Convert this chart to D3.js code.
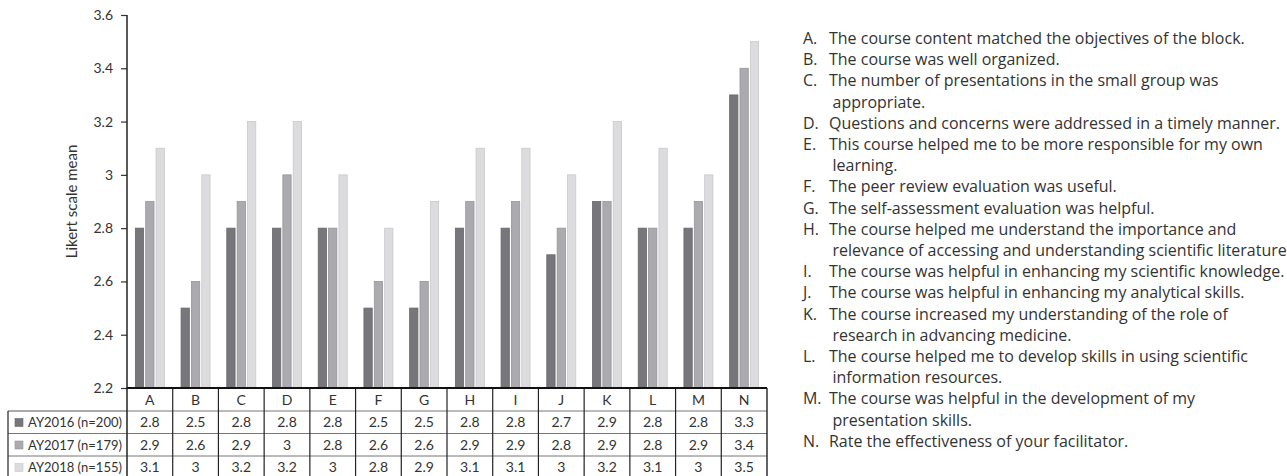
<!DOCTYPE html>
<html>
<head>
<meta charset="utf-8">
<script src="https://cdn.jsdelivr.net/npm/d3@7"></script>
<style>
  html, body { margin: 0; padding: 0; background: #fff; }
  svg { display: block; }
  text { font-family: Lato, "Open Sans", sans-serif; fill: #333; }
</style>
</head>
<body>
<svg id="chart" width="1287" height="476"></svg>
<script>
const categories = ["A","B","C","D","E","F","G","H","I","J","K","L","M","N"];
const seriesNames = ["AY2016 (n=200)","AY2017 (n=179)","AY2018 (n=155)"];
const ay2016 = [2.8,2.5,2.8,2.8,2.8,2.5,2.5,2.8,2.8,2.7,2.9,2.8,2.8,3.3];
const ay2017 = [2.9,2.6,2.9,3,2.8,2.6,2.6,2.9,2.9,2.8,2.9,2.8,2.9,3.4];
const ay2018 = [3.1,3,3.2,3.2,3,2.8,2.9,3.1,3.1,3,3.2,3.1,3,3.5];
const tickValues = [2.2,2.4,2.6,2.8,3,3.2,3.4,3.6];
const yTitle = "Likert scale mean";
const legendLines = [
  ["A.","The course content matched the objectives of the block."],
  ["B.","The course was well organized."],
  ["C.","The number of presentations in the small group was"],
  ["","appropriate."],
  ["D.","Questions and concerns were addressed in a timely manner."],
  ["E.","This course helped me to be more responsible for my own"],
  ["","learning."],
  ["F.","The peer review evaluation was useful."],
  ["G.","The self-assessment evaluation was helpful."],
  ["H.","The course helped me understand the importance and"],
  ["","relevance of accessing and understanding scientific literature."],
  ["I.","The course was helpful in enhancing my scientific knowledge."],
  ["J.","The course was helpful in enhancing my analytical skills."],
  ["K.","The course increased my understanding of the role of"],
  ["","research in advancing medicine."],
  ["L.","The course helped me to develop skills in using scientific"],
  ["","information resources."],
  ["M.","The course was helpful in the development of my"],
  ["","presentation skills."],
  ["N.","Rate the effectiveness of your facilitator."]
];

(function () {
const series = [ay2016, ay2017, ay2018];
const fills = ["#77777b","#ababaf","#dcdcde"];
const strokes = ["#68686c","#96969a","#c9c9cb"];

const svg = d3.select("#chart");
const pLeft = 127, pRight = 767, pTop = 15, pBottom = 388;

const x = d3.scaleBand().domain(categories).range([pLeft, pRight]).padding(0);
const y = d3.scaleLinear().domain([2.2, 3.6]).range([pBottom, pTop]);
const xSub = d3.scaleBand().domain(d3.range(3)).range([0, 29]).paddingInner(0.2);

// bars
series.forEach((vals, si) => {
  svg.append("g").selectAll("rect").data(vals).join("rect")
    .attr("x", (d, i) => x(categories[i]) + x.bandwidth() / 2 - 14.5 + xSub(si))
    .attr("y", d => y(d))
    .attr("width", xSub.bandwidth())
    .attr("height", d => y(2.2) - y(d))
    .attr("fill", fills[si])
    .attr("stroke", strokes[si])
    .attr("stroke-width", 0.8);
});

// y axis
const yAxis = d3.axisLeft(y).tickValues(tickValues).tickSize(6).tickPadding(8)
  .tickFormat(d => String(+d.toFixed(1)));
const gy = svg.append("g").attr("transform", `translate(${pLeft},0)`).call(yAxis);
gy.select(".domain").remove();
gy.selectAll(".tick line").attr("stroke", "#333").attr("stroke-width", 1.2);
gy.selectAll(".tick text").style("font-family", "Lato, sans-serif").style("font-size", "14px").attr("fill", "#404040");

svg.append("text")
  .attr("transform", `translate(77,${(pTop + pBottom) / 2}) rotate(-90)`)
  .attr("text-anchor", "middle")
  .style("font-size", "15px")
  .attr("fill", "#404040")
  .text(yTitle);

// table
const rowTops = [388, 411, 433.5, 456, 479];
const tbl = svg.append("g");
tbl.append("line").attr("x1", pLeft).attr("x2", pRight).attr("y1", 411).attr("y2", 411).attr("stroke", "#777").attr("stroke-width", 1);
[433.5, 456].forEach(yy => {
  tbl.append("line").attr("x1", 8).attr("x2", pRight).attr("y1", yy).attr("y2", yy).attr("stroke", "#777").attr("stroke-width", 1);
});
tbl.append("line").attr("x1", 8).attr("x2", pLeft).attr("y1", 411).attr("y2", 411).attr("stroke", "#555").attr("stroke-width", 1);
categories.forEach((c, i) => {
  if (i === 0) return;
  tbl.append("line").attr("x1", x(c)).attr("x2", x(c)).attr("y1", 388).attr("y2", 476).attr("stroke", "#222").attr("stroke-width", 1.2);
});
tbl.append("line").attr("x1", pRight).attr("x2", pRight).attr("y1", 388).attr("y2", 476).attr("stroke", "#222").attr("stroke-width", 1.4);
tbl.append("line").attr("x1", 8).attr("x2", 8).attr("y1", 411).attr("y2", 476).attr("stroke", "#222").attr("stroke-width", 1.2);

tbl.selectAll("text.hdr").data(categories).join("text")
  .attr("class", "hdr")
  .attr("x", d => x(d) + x.bandwidth() / 2)
  .attr("y", 404.5)
  .attr("text-anchor", "middle")
  .style("font-size", "14px")
  .text(d => d);

series.forEach((vals, si) => {
  tbl.append("g").selectAll("text").data(vals).join("text")
    .attr("x", (d, i) => x(categories[i]) + x.bandwidth() / 2)
    .attr("y", rowTops[si + 1] + 16.2)
    .attr("text-anchor", "middle")
    .style("font-size", "14px")
    .text(d => String(d));
  tbl.append("rect")
    .attr("x", 15).attr("y", rowTops[si + 1] + 7.5)
    .attr("width", 8).attr("height", 8)
    .attr("fill", fills[si]).attr("stroke", strokes[si]).attr("stroke-width", 0.6);
  tbl.append("text")
    .attr("x", 28).attr("y", rowTops[si + 1] + 16.2)
    .attr("textLength", 94).attr("lengthAdjust", "spacingAndGlyphs")
    .style("font-size", "14px")
    .text(seriesNames[si]);
});

svg.append("line").attr("x1", pLeft).attr("x2", pLeft).attr("y1", pTop).attr("y2", 476).attr("stroke", "#222").attr("stroke-width", 1.5);
svg.append("line").attr("x1", pLeft).attr("x2", pRight).attr("y1", pBottom).attr("y2", pBottom).attr("stroke", "#111").attr("stroke-width", 2);

// description list
const lg = svg.append("g");
const LF = "'Open Sans', Lato, sans-serif";
const probe = lg.append("text").style("font-family", LF).style("font-size", "16px").text(legendLines[0][1]);
const sx = Math.max(0.7, Math.min(1.3, 416 / probe.node().getComputedTextLength()));
probe.remove();
legendLines.forEach((ln, i) => {
  const yy = 44 + i * 21.2;
  if (ln[0]) {
    lg.append("text").attr("transform", `translate(803,${yy}) scale(${sx},1)`)
      .style("font-family", LF).style("font-size", "16px").attr("fill", "#262626").text(ln[0]);
    lg.append("text").attr("transform", `translate(829,${yy}) scale(${sx},1)`)
      .style("font-family", LF).style("font-size", "16px").attr("fill", "#262626").text(ln[1]);
  } else {
    lg.append("text").attr("transform", `translate(832.5,${yy}) scale(${sx},1)`)
      .style("font-family", LF).style("font-size", "16px").attr("fill", "#262626").text(ln[1]);
  }
});
})();
</script>
</body>
</html>
